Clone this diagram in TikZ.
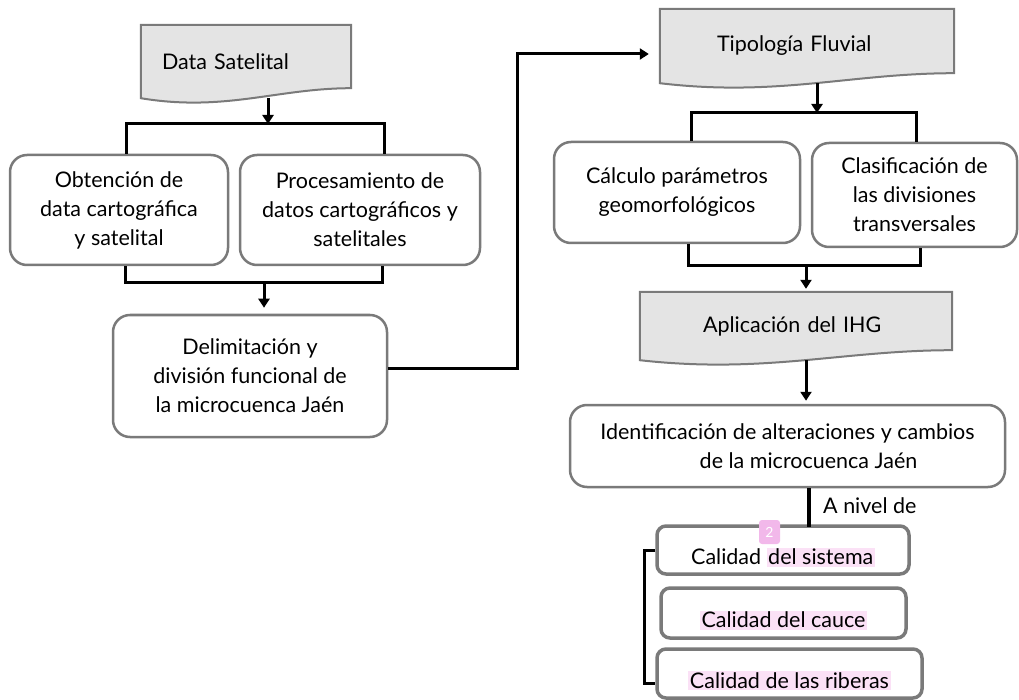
\documentclass[tikz,border=0pt]{standalone}
\usepackage{fontspec}
\setmainfont{Lato}
\usetikzlibrary{calc,backgrounds,arrows.meta}
\definecolor{edgegray}{HTML}{7A7A7A}
\definecolor{docgray}{HTML}{E4E4E4}
\definecolor{hlpink}{HTML}{FBE1F6}
\definecolor{markpink}{HTML}{F2B8EA}
\setlength{\fboxsep}{1.5pt}
\newcommand{\pinkhl}[1]{\colorbox{hlpink}{#1}}
\newcommand{\lowtext}[1]{\raisebox{-7pt}[\height][\depth]{#1}}
\newcommand{\docwave}[1]{\draw[edgegray, line width=2pt, fill=docgray] (#1.south west) -- (#1.north west) -- (#1.north east) -- ([yshift=10pt]#1.south east) .. controls ($(#1.south east)!0.35!(#1.south west)+(0,-10)$) and ($(#1.south east)!0.6!(#1.south west)+(0,14)$) .. (#1.south west) -- cycle;}
\begin{document}
\begin{tikzpicture}[x=1pt, y=-1pt, font=\fontsize{21.5}{29}\selectfont,
  roundbox/.style={draw=edgegray, line width=2.5pt, rounded corners=17pt, fill=white, align=center, inner sep=0pt},
  smallbox/.style={draw=edgegray, line width=3.5pt, rounded corners=9pt, fill=white, inner sep=0pt},
  docbox/.style={inner sep=0pt, align=left},
  conn/.style={line width=3pt},
  arr/.style={conn, -{Triangle[length=9pt,width=11pt]}, shorten >=3pt}]
\useasboundingbox (0,0) rectangle (1019,700);

\node[docbox, minimum width=210pt, minimum height=73pt, text width=168pt] (data) at (246,61.5) {Data Satelital};
\node[docbox, minimum width=294pt, minimum height=74pt, text width=180pt] (tipo) at (807,46) {Tipología Fluvial};
\node[docbox, minimum width=312pt, minimum height=68pt, text width=186pt] (apl) at (796,326) {Aplicación del IHG};
\begin{scope}[on background layer]
\docwave{data} \docwave{tipo} \docwave{apl}
\end{scope}

\node[roundbox, minimum width=218pt, minimum height=110pt] (obt) at (119,210) {Obtención de\\data cartográfica\\y satelital};
\node[roundbox, minimum width=240pt, minimum height=110pt] (proc) at (360,210) {Procesamiento de\\datos cartográficos y\\satelitales};
\node[roundbox, minimum width=274pt, minimum height=122pt] (delim) at (250,376) {Delimitación y\\división funcional de\\la microcuenca Jaén};
\node[roundbox, minimum width=246pt, minimum height=101pt] (param) at (677,192.5) {Cálculo parámetros\\geomorfológicos};
\node[roundbox, minimum width=205pt, minimum height=104pt] (clas) at (914.5,195) {Clasificación de\\las divisiones\\transversales};
\node[roundbox, minimum width=435pt, minimum height=82pt] (ident) at (787.5,446) {Identificación de alteraciones y cambios\\\hspace*{42pt}de la microcuenca Jaén};

\node[smallbox, minimum width=252pt, minimum height=48pt] (sys) at (783,550) {\lowtext{Calidad \pinkhl{del sistema}}};
\node[smallbox, minimum width=245pt, minimum height=50pt] (cauce) at (783.5,613) {\lowtext{\pinkhl{Calidad del cauce}}};
\node[smallbox, minimum width=265pt, minimum height=49pt] (rib) at (789.5,673.5) {\lowtext{\pinkhl{Calidad de las riberas}}};
\node[fill=markpink, rounded corners=3pt, minimum width=21pt, minimum height=24pt, inner sep=0pt, text=white, font=\fontsize{14}{16}\selectfont] (mark) at (769.5,532) {2};
\node[anchor=west, inner sep=0pt] (nivel) at (823,506) {A nivel de};

\coordinate (fork1) at (268,124);
\coordinate (join1) at (264,283);
\coordinate (fork2) at (817,113);
\coordinate (join2) at (806,266);

\draw[arr, shorten >=0pt] (fork1 |- data.south) -- (fork1);
\draw[conn] ([xshift=7pt]obt.north) |- (fork1) -| ([xshift=24pt]proc.north);
\draw[conn] ([xshift=6pt]obt.south) |- (join1) -| ([xshift=22pt]proc.south);
\draw[arr, shorten >=6pt] (join1) -- (join1 |- delim.north);
\draw[arr, shorten >=11pt] ([yshift=8pt]delim.east) -- ++(129,0) |- ([yshift=-8pt]tipo.west);
\draw[arr, shorten >=0pt] (fork2 |- tipo.south) -- (fork2);
\draw[conn] ([xshift=14pt]param.north) |- (fork2) -| ([xshift=2pt]clas.north);
\draw[conn] ([xshift=11pt]param.south) |- (join2) -| ([xshift=6pt]clas.south);
\draw[arr] (join2) -- (join2 |- apl.north);
\draw[arr] (join2 |- apl.south) -- (join2 |- ident.north);
\draw[conn, line width=4.5pt] ([xshift=21.5pt]ident.south) -- ++(0,39);
\draw[conn] (sys.west) -- ++(-11,0) |- ([yshift=-10pt]rib.west);

\end{tikzpicture}
\end{document}
